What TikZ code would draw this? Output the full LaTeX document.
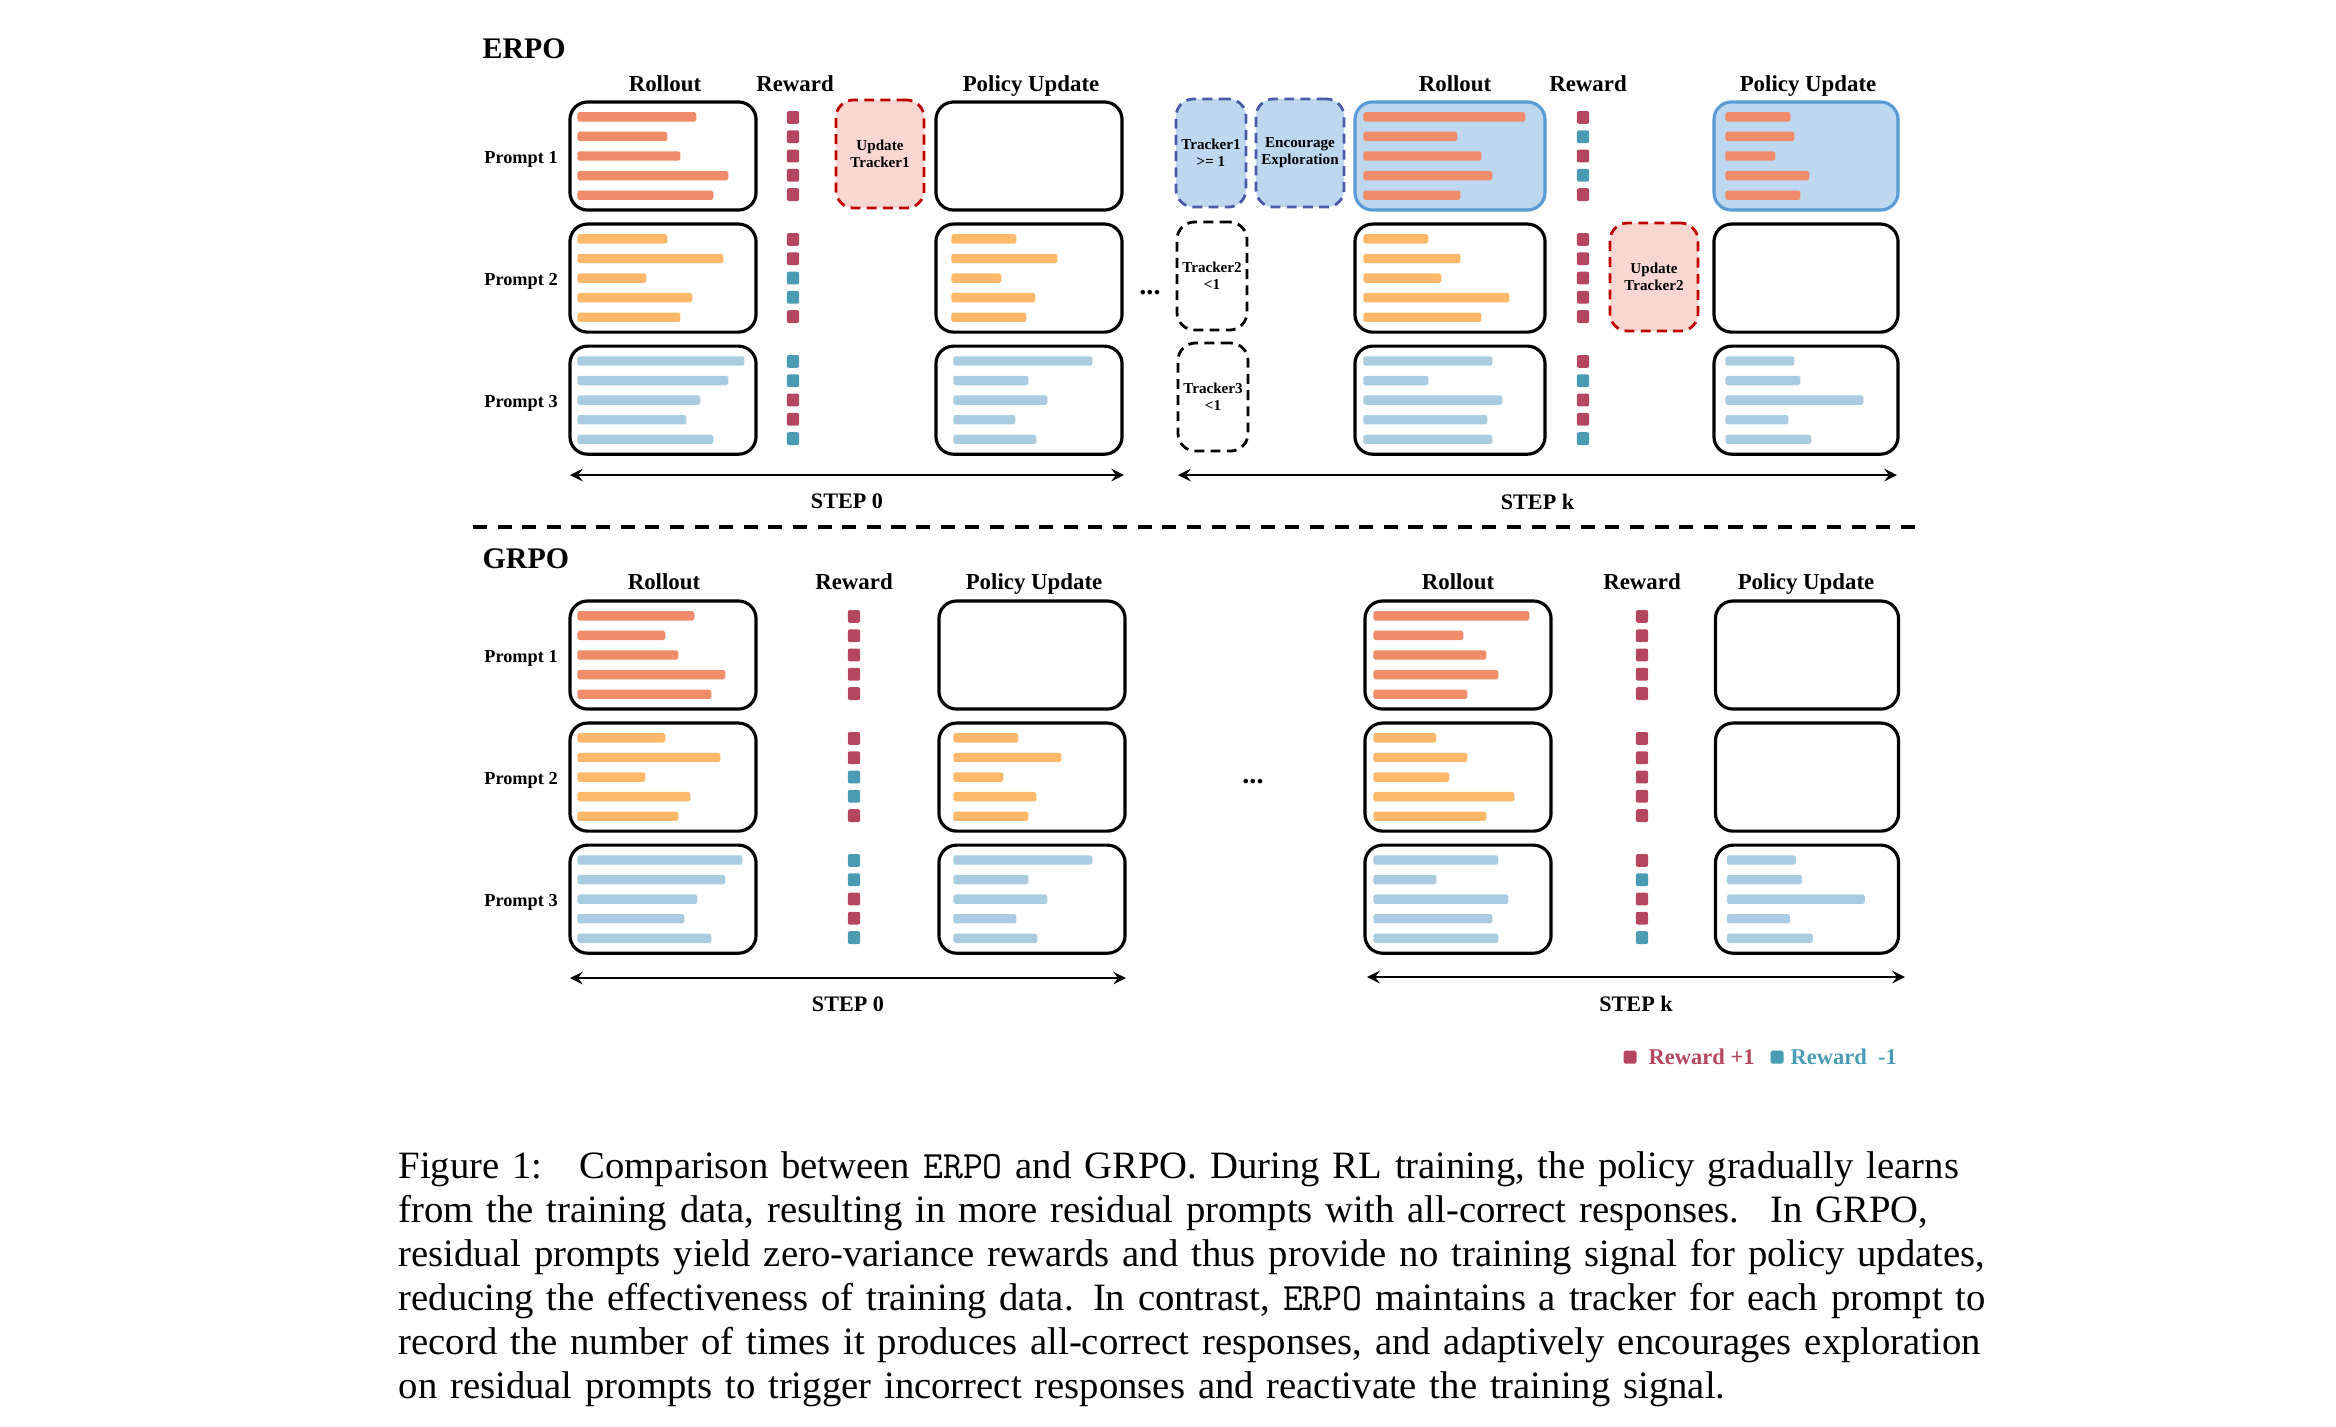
\documentclass[tikz,border=0pt]{standalone}
\usepackage{fontspec}
\setmainfont{Liberation Serif}
\usepackage{tikz}
\usetikzlibrary{arrows}

\definecolor{barred}{HTML}{F08C6A}
\definecolor{barorange}{HTML}{FDB86A}
\definecolor{barblue}{HTML}{A9CCE1}
\definecolor{plusred}{HTML}{B5465F}
\definecolor{minusteal}{HTML}{4A9CB5}
\definecolor{fillblue}{HTML}{BDD7EE}
\definecolor{edgeblue}{HTML}{5B9BD5}
\definecolor{darkblue}{HTML}{4A5BAA}
\definecolor{fillpink}{HTML}{F8D7D3}
\definecolor{darkred}{HTML}{C00000}

\tikzstyle{panel} = [rectangle, rounded corners=5pt, minimum width=1.86cm, minimum height=1.08cm, draw=black, line width=0.9pt]
\tikzstyle{hot} = [panel, draw=edgeblue, fill=fillblue]
\tikzstyle{tracker} = [rectangle, rounded corners=5pt, minimum width=0.7cm, minimum height=1.08cm, draw=black, line width=0.8pt, dash pattern=on 2.8pt off 1.8pt, align=center, inner sep=1pt, font=\fontsize{4.3}{4.9}\selectfont\bfseries]
\tikzstyle{updater} = [tracker, minimum width=0.88cm, draw=darkred, fill=fillpink]
\tikzstyle{explorer} = [tracker, draw=darkblue, fill=fillblue]
\tikzstyle{colhead} = [font=\fontsize{6.5}{8}\selectfont\bfseries, anchor=base]
\tikzstyle{prompttag} = [font=\fontsize{5.2}{6}\selectfont\bfseries, anchor=east, inner sep=0pt]
\tikzstyle{paneltitle} = [font=\fontsize{8.5}{10}\selectfont\bfseries, anchor=west, inner sep=0pt]
\tikzstyle{steplabel} = [font=\fontsize{6.3}{8}\selectfont\bfseries, below=0.06cm]
\tikzstyle{arrow} = [line width=0.6pt, <->, >=stealth]
\tikzstyle{divider} = [line width=1.1pt, dash pattern=on 4pt off 3pt]
\tikzstyle{ellip} = [font=\fontsize{8}{8}\selectfont\bfseries]
\tikzstyle{chip} = [rectangle, rounded corners=0.5pt, minimum size=0.13cm, inner sep=0pt]
\tikzstyle{legend} = [font=\fontsize{6.4}{8}\selectfont\bfseries, anchor=west, inner sep=0pt]

% bars of one panel: box, colour, inset, lengths
\newcommand{\drawbars}[4]{%
  \foreach \len [count=\n] in {#4}
    \fill[#2, rounded corners=0.5pt] (#1.west) ++(#3,{(\n-3)*19.6-4.7}) rectangle ++(\len,9.4);
}
% reward squares: centre, colours
\newcommand{\drawrewards}[2]{%
  \foreach \rc [count=\n] in {#2}
    \fill[\rc, rounded corners=0.6pt] (#1) ++(-6.2,{(\n-3)*19.3-6.4}) rectangle ++(12.4,12.8);
}

\begin{document}
\begin{tikzpicture}[x=0.01cm, y=-0.01cm, node distance=1.22cm]
\useasboundingbox (0,0) rectangle (2336,1426);

% ---------- ERPO ----------
\node (erpo) [paneltitle] at (482,49) {ERPO};
\node (e0h1) [colhead] at (665,91) {Rollout};
\node (e0h2) [colhead] at (795,91) {Reward};
\node (e0h3) [colhead] at (1031,91) {Policy Update};
\node (ekh1) [colhead] at (1455,91) {Rollout};
\node (ekh2) [colhead] at (1588,91) {Reward};
\node (ekh3) [colhead] at (1808,91) {Policy Update};

% step 0
\node (e0r1) [panel] at (663,156) {};
\node (e0r2) [panel, below of=e0r1] {};
\node (e0r3) [panel, below of=e0r2] {};
\node (et1) [prompttag] at ([xshift=-0.1cm, yshift=-0.03cm]e0r1.west) {Prompt 1};
\node (et2) [prompttag] at ([xshift=-0.1cm, yshift=-0.03cm]e0r2.west) {Prompt 2};
\node (et3) [prompttag] at ([xshift=-0.1cm, yshift=-0.03cm]e0r3.west) {Prompt 3};
\drawbars{e0r1}{barred}{9}{119,90,103,151,136}
\drawbars{e0r2}{barorange}{9}{90,146,69,115,103}
\drawbars{e0r3}{barblue}{9}{167,151,123,109,136}

\coordinate (e0w1) at (793,156);
\coordinate (e0w2) at (793,278);
\coordinate (e0w3) at (793,400);
\drawrewards{e0w1}{plusred,plusred,plusred,plusred,plusred}
\drawrewards{e0w2}{plusred,plusred,minusteal,minusteal,plusred}
\drawrewards{e0w3}{minusteal,minusteal,plusred,plusred,minusteal}

\node (e0u1) [updater] at (880,154) {Update\\Tracker1};

\node (e0p1) [panel] at (1029,156) {};
\node (e0p2) [panel, below of=e0p1] {};
\node (e0p3) [panel, below of=e0p2] {};
\drawbars{e0p2}{barorange}{17}{65,106,50,84,75}
\drawbars{e0p3}{barblue}{19}{139,75,94,62,83}

\coordinate (e0a) at (570,475);
\coordinate (e0b) at (1124,475);
\draw [arrow] (e0a) -- node[steplabel]{STEP 0} (e0b);

\node (egap) [ellip] at (1150,293) {...};

% step k
\node (ekt1) [explorer] at (1211,153) {Tracker1\\>= 1};
\node (ekx) [explorer, minimum width=0.88cm] at (1300,153) {Encourage\\Exploration};
\node (ekt2) [tracker] at (1212,276) {Tracker2\\<1};
\node (ekt3) [tracker] at (1213,397) {Tracker3\\<1};

\node (ekr1) [hot, minimum width=1.9cm] at (1450,156) {};
\node (ekr2) [panel, minimum width=1.9cm, below of=ekr1] {};
\node (ekr3) [panel, minimum width=1.9cm, below of=ekr2] {};
\drawbars{ekr1}{barred}{10}{162,94,118,129,97}
\drawbars{ekr2}{barorange}{10}{65,97,78,146,118}
\drawbars{ekr3}{barblue}{10}{129,65,139,124,129}

\coordinate (ekw1) at (1583,156);
\coordinate (ekw2) at (1583,278);
\coordinate (ekw3) at (1583,400);
\drawrewards{ekw1}{plusred,minusteal,plusred,minusteal,plusred}
\drawrewards{ekw2}{plusred,plusred,plusred,plusred,plusred}
\drawrewards{ekw3}{plusred,minusteal,plusred,plusred,minusteal}

\node (eku2) [updater] at (1654,277) {Update\\Tracker2};

\node (ekp1) [hot, minimum width=1.84cm] at (1806,156) {};
\node (ekp2) [panel, minimum width=1.84cm, below of=ekp1] {};
\node (ekp3) [panel, minimum width=1.84cm, below of=ekp2] {};
\drawbars{ekp1}{barred}{13}{65,69,50,84,75}
\drawbars{ekp3}{barblue}{13}{69,75,138,63,86}

\coordinate (eka) at (1178,475);
\coordinate (ekb) at (1897,475);
\draw [arrow] (eka) -- node[steplabel]{STEP k} (ekb);

% separator
\coordinate (sa) at (473,527);
\coordinate (sb) at (1924,527);
\draw [divider] (sa) -- (sb);

% ---------- GRPO ----------
\node (grpo) [paneltitle] at (482,559) {GRPO};
\node (g0h1) [colhead] at (664,589) {Rollout};
\node (g0h2) [colhead] at (854,589) {Reward};
\node (g0h3) [colhead] at (1034,589) {Policy Update};
\node (gkh1) [colhead] at (1458,589) {Rollout};
\node (gkh2) [colhead] at (1642,589) {Reward};
\node (gkh3) [colhead] at (1806,589) {Policy Update};

% step 0
\node (g0r1) [panel] at (663,655) {};
\node (g0r2) [panel, below of=g0r1] {};
\node (g0r3) [panel, below of=g0r2] {};
\node (gt1) [prompttag] at ([xshift=-0.1cm, yshift=-0.03cm]g0r1.west) {Prompt 1};
\node (gt2) [prompttag] at ([xshift=-0.1cm, yshift=-0.03cm]g0r2.west) {Prompt 2};
\node (gt3) [prompttag] at ([xshift=-0.1cm, yshift=-0.03cm]g0r3.west) {Prompt 3};
\drawbars{g0r1}{barred}{9}{117,88,101,148,134}
\drawbars{g0r2}{barorange}{9}{88,143,68,113,101}
\drawbars{g0r3}{barblue}{9}{165,148,120,107,134}

\coordinate (g0w1) at (854,655);
\coordinate (g0w2) at (854,777);
\coordinate (g0w3) at (854,899);
\drawrewards{g0w1}{plusred,plusred,plusred,plusred,plusred}
\drawrewards{g0w2}{plusred,plusred,minusteal,minusteal,plusred}
\drawrewards{g0w3}{minusteal,minusteal,plusred,plusred,minusteal}

\node (g0p1) [panel] at (1032,655) {};
\node (g0p2) [panel, below of=g0p1] {};
\node (g0p3) [panel, below of=g0p2] {};
\drawbars{g0p2}{barorange}{16}{65,108,50,83,75}
\drawbars{g0p3}{barblue}{16}{139,75,94,63,84}

\coordinate (g0a) at (570,978);
\coordinate (g0b) at (1126,978);
\draw [arrow] (g0a) -- node[steplabel]{STEP 0} (g0b);

\node (ggap) [ellip] at (1253,782) {...};

% step k
\node (gkr1) [panel, minimum width=1.86cm] at (1458,655) {};
\node (gkr2) [panel, minimum width=1.86cm, below of=gkr1] {};
\node (gkr3) [panel, minimum width=1.86cm, below of=gkr2] {};
\drawbars{gkr1}{barred}{10}{156,90,113,125,94}
\drawbars{gkr2}{barorange}{10}{63,94,76,141,113}
\drawbars{gkr3}{barblue}{10}{125,63,135,119,125}

\coordinate (gkw1) at (1642,655);
\coordinate (gkw2) at (1642,777);
\coordinate (gkw3) at (1642,899);
\drawrewards{gkw1}{plusred,plusred,plusred,plusred,plusred}
\drawrewards{gkw2}{plusred,plusred,plusred,plusred,plusred}
\drawrewards{gkw3}{plusred,minusteal,plusred,plusred,minusteal}

\node (gkp1) [panel, minimum width=1.83cm] at (1807,655) {};
\node (gkp2) [panel, minimum width=1.83cm, below of=gkp1] {};
\node (gkp3) [panel, minimum width=1.83cm, below of=gkp2] {};
\drawbars{gkp3}{barblue}{13}{69,75,138,63,86}

\coordinate (gka) at (1367,977);
\coordinate (gkb) at (1905,977);
\draw [arrow] (gka) -- node[steplabel]{STEP k} (gkb);

% legend
\node (lpos) [chip, fill=plusred] at (1630,1057) {};
\node (lpost) [legend, text=plusred] at (1648,1057) {Reward +1};
\node (lneg) [chip, fill=minusteal] at (1777,1057) {};
\node (lnegt) [legend, text=minusteal] at (1790,1057) {Reward\ \ -1};

% caption
\node (cap) [anchor=north west, inner sep=0pt, text width=15.92cm, font=\fontsize{11}{12.5}\selectfont] at (398,1151) {%
\makebox[\linewidth][s]{Figure 1:\hspace{0.45em} Comparison between \texttt{ERPO} and GRPO. During RL training, the policy gradually learns}\\
\makebox[\linewidth][s]{from the training data, resulting in more residual prompts with all-correct responses.\hspace{0.3em} In GRPO,}\\
\makebox[\linewidth][s]{residual prompts yield zero-variance rewards and thus provide no training signal for policy updates,}\\
\makebox[\linewidth][s]{reducing the effectiveness of training data. In contrast, \texttt{ERPO} maintains a tracker for each prompt to}\\
\makebox[\linewidth][s]{record the number of times it produces all-correct responses, and adaptively encourages exploration}\\
on residual prompts to trigger incorrect responses and reactivate the training signal.};

\end{tikzpicture}
\end{document}
